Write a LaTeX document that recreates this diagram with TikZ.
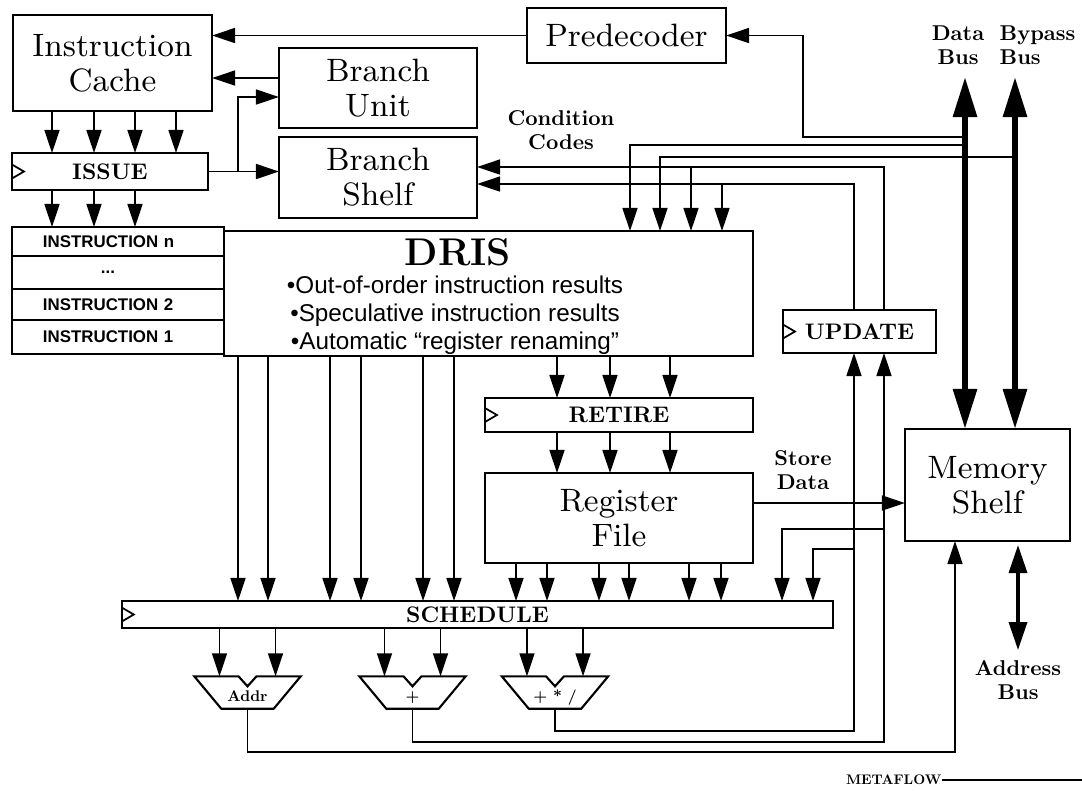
\documentclass[tikz,border=0pt]{standalone}
\usepackage{fontspec}
\setsansfont{Liberation Sans}
\newfontfamily\lmbold{lmroman10-bold.otf}
\usetikzlibrary{arrows.meta, positioning, calc}

\begin{document}
\begin{tikzpicture}[x=0.01cm, y=-0.01cm,
    box/.style={rectangle, draw, line width=0.6pt, inner sep=0pt, outer sep=0pt,
                align=center, font=\fontsize{9.2}{10}\selectfont},
    bar/.style={rectangle, draw, line width=0.6pt, inner sep=0pt, outer sep=0pt,
                font=\lmbold\fontsize{6.4}{7}\selectfont},
    row/.style={rectangle, draw, line width=0.6pt, inner sep=0pt, outer sep=0pt,
                minimum width=2.12cm, text width=1.5cm, align=left,
                font=\sffamily\fontsize{4.8}{5}\selectfont\bfseries},
    tag/.style={align=center, inner sep=0pt, font=\lmbold\fontsize{6.1}{6.8}\selectfont},
    alu/.style={minimum width=1.05cm, inner sep=0pt, text height=0.24cm, text depth=0.07cm,
                font=\lmbold\fontsize{4.4}{5}\selectfont},
    arr/.style={->, >={Triangle[length=2.3mm, width=1.5mm]}, line width=0.45pt},
    bus/.style={<->, >={Triangle[length=4mm, width=2.3mm]}, line width=0.6mm},
    abus/.style={<->, >={Triangle[length=2.8mm, width=1.8mm]}, line width=0.35mm}]

    \useasboundingbox (0,0) rectangle (1082,790);

    % front end
    \node[box, minimum width=1.99cm, minimum height=0.96cm] (ic) at (112.5,63) {Instruction\\Cache};
    \node[box, minimum width=1.99cm, minimum height=0.55cm] (pre) at (626.5,35.5) {Predecoder};
    \node[box, minimum width=1.98cm, minimum height=0.80cm] (bu) at (378,88) {Branch\\Unit};
    \node[box, minimum width=1.98cm, minimum height=0.81cm] (bs) at (378,177.5) {Branch\\Shelf};
    \node[bar, minimum width=1.96cm, minimum height=0.37cm] (issue) at (110,171.5) {ISSUE};

    % instruction window
    \node[row, minimum height=0.29cm] (instn) at (118,241.5) {INSTRUCTION n};
    \node[row, minimum height=0.33cm, below=0pt of instn] (instdots) {\makebox[1.3cm]{...}};
    \node[row, minimum height=0.31cm, below=0pt of instdots] (inst2) {INSTRUCTION 2};
    \node[row, minimum height=0.34cm, below=0pt of inst2] (inst1) {INSTRUCTION 1};
    \node[box, minimum width=5.29cm, minimum height=1.25cm] (dris) at (488.5,293.5) {};
    \node[font=\fontsize{11}{12}\selectfont\bfseries, inner sep=0pt] (dristitle) at (458,252) {DRIS};
    \node[align=center, inner sep=0pt, font=\sffamily\fontsize{6.9}{7.9}\selectfont] (drisnotes) at (455,315)
        {•Out-of-order instruction results\\•Speculative instruction results\\•Automatic “register renaming”};

    % back end
    \node[bar, minimum width=2.68cm, minimum height=0.34cm] (retire) at (619,415) {RETIRE};
    \node[box, minimum width=2.68cm, minimum height=0.90cm] (rf) at (619,518) {Register\\File};
    \node[bar, minimum width=1.53cm, minimum height=0.43cm] (upd) at (859.5,331.5) {UPDATE};
    \node[box, minimum width=1.65cm, minimum height=1.12cm] (mem) at (987.5,485) {Memory\\Shelf};
    \node[bar, minimum width=7.11cm, minimum height=0.27cm] (sched) at (477.5,614.5) {SCHEDULE};

    \node[alu] (aluaddr) at (247.5,692.5) {Addr};
    \node[alu] (aluadd) at (412.5,692.5) {+};
    \node[alu] (alumul) at (555,692.5) {+ * /};
    \foreach \a in {aluaddr,aluadd,alumul}
        \draw[line width=0.6pt] (\a.north west) -- ([xshift=-0.09cm]\a.north) -- ([yshift=-0.1cm]\a.north)
            -- ([xshift=0.09cm]\a.north) -- (\a.north east) -- ([xshift=-0.27cm]\a.south east)
            -- ([xshift=0.27cm]\a.south west) -- cycle;

    % clock marks
    \foreach \n in {issue,retire,upd,sched}
        \draw[line width=0.5pt] ([yshift=-0.07cm]\n.west) -- ++(12,-7) -- ++(-12,-7);

    % labels
    \node[tag] (cclbl) at (561,130) {Condition\\Codes};
    \node[tag] (sdlbl) at (803,470) {Store\\Data};
    \node[tag] (dlbl) at (958,45) {Data\\Bus};
    \node[tag, align=left, anchor=west] (blbl) at (999,45) {Bypass\\Bus};

    % fetch and issue
    \foreach \x in {52,94,135,176}
        \draw[arr] (ic.south -| \x,0) -- (issue.north -| \x,0);
    \foreach \x in {52,94,135}
        \draw[arr] (issue.south -| \x,0) -- (instn.north -| \x,0);
    \draw[arr] (pre.west) -- (ic.east |- pre.west);
    \draw[arr] (bu.west |- 0,78) -- (ic.east |- 0,78);
    \draw[arr] (issue.east) -- (bs.west |- issue.east);
    \draw[arr] (issue.east -| 238,0) |- (bu.west |- 0,97);

    % buses
    \coordinate (dtop) at (965,77);
    \coordinate (btop) at (1015,77);
    \draw[arr] (dtop |- 0,137) -| (803,0 |- pre.east) -- (pre.east);
    \draw[arr] (dtop |- 0,145) -| (dris.north -| 630,0);
    \draw[arr] (btop |- 0,157) -| (dris.north -| 660,0);
    \draw[bus] (dtop) -- (mem.north -| dtop);
    \draw[bus] (btop) -- (mem.north -| btop);

    % condition codes
    \coordinate (cc1) at (884,167);
    \coordinate (cc2) at (854,184);
    \draw[arr] (upd.north -| cc1) |- (bs.east |- cc1);
    \draw[arr] (upd.north -| cc2) |- (bs.east |- cc2);
    \draw[arr] (cc1 -| 691,0) -- (dris.north -| 691,0);
    \draw[arr] (cc2 -| 722,0) -- (dris.north -| 722,0);

    % retire and schedule
    \foreach \x in {238,268,330,361,423,454}
        \draw[arr] (dris.south -| \x,0) -- (sched.north -| \x,0);
    \foreach \x in {557,610,670} {
        \draw[arr] (dris.south -| \x,0) -- (retire.north -| \x,0);
        \draw[arr] (retire.south -| \x,0) -- (rf.north -| \x,0);
    }
    \foreach \x in {516,547,599,629,689,721}
        \draw[arr] (rf.south -| \x,0) -- (sched.north -| \x,0);
    \draw[arr] (rf.east |- 0,503) -- (mem.west |- 0,503);

    \coordinate (tap1) at (884,529);
    \coordinate (tap2) at (854,549);
    \draw[arr] (tap1) -| (sched.north -| 782,0);
    \draw[arr] (tap2) -| (sched.north -| 813,0);

    % execution units
    \foreach \a in {aluaddr,aluadd,alumul}
        \foreach \s in {-0.28cm,0.28cm}
            \draw[arr] ([xshift=\s]\a.north |- sched.south) -- ([xshift=\s]\a.north);
    \draw[arr] (alumul.south) -- ++(0,22) -| (upd.south -| tap2);
    \draw[arr] (aluadd.south) -- ++(0,33) -| (upd.south -| tap1);
    \draw[arr] (aluaddr.south) -- ++(0,43) -| (mem.south -| 955,0);

    % address bus
    \coordinate (abot) at (1018,650);
    \draw[abus] ([yshift=-0.04cm]mem.south -| abot) -- (abot);
    \node[tag, below=0.1cm of abot] (albl) {Address\\Bus};

    \node[font=\lmbold\fontsize{3.95}{4}\selectfont, inner sep=0pt, anchor=east] (mf) at (942,780) {METAFLOW};
    \draw[line width=0.45pt] (mf.east) -- ++(140,0);
\end{tikzpicture}
\end{document}
